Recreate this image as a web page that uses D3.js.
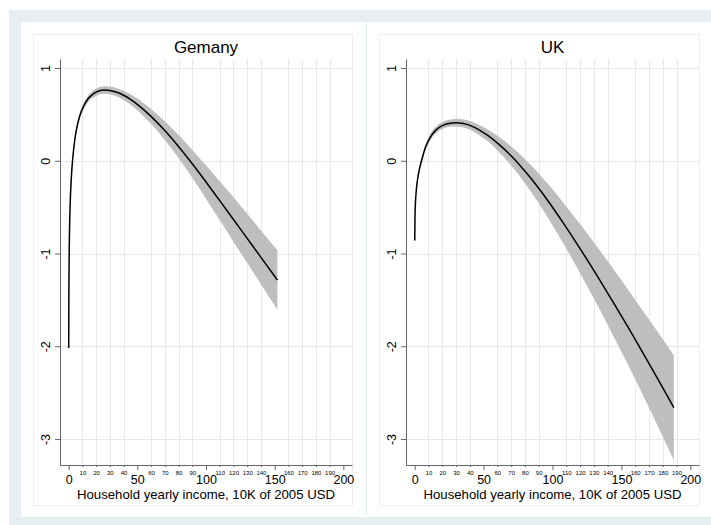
<!DOCTYPE html>
<html>
<head>
<meta charset="utf-8">
<script src="https://cdn.jsdelivr.net/npm/d3@7"></script>
<style>
body{margin:0;background:#fff;}
text{font-family:"Liberation Sans",Arial,Helvetica,sans-serif;fill:#000;}
</style>
</head>
<body>
<div id="chart"></div>
<script>
// panel titles (as written on the original)
const countries = ["Gemany", "UK"];
const xTitle = "Household yearly income, 10K of 2005 USD";

// tick values
const yTicks = [-3, -2, -1, 0, 1];
const xMajor = [0, 50, 100, 150, 200];
const xMinor = [10,20,30,40,60,70,80,90,110,120,130,140,160,170,180,190];

// Germany: fitted curve and confidence band
const geX  = [0.05,0.1,0.2,0.5,1,2,3,4.6,6,8,11,14,17,20,23,26,30,35,40,45,50,60,70,80,90,100,110,120,130,140,152];
const geY  = [-2.02,-1.67,-1.33,-0.87,-0.52,-0.17,0.03,0.24,0.36,0.48,0.59,0.665,0.71,0.74,0.757,0.763,0.758,0.738,0.706,0.662,0.608,0.478,0.325,0.153,-0.033,-0.229,-0.43,-0.633,-0.837,-1.041,-1.286];
const geLo = [-2.02,-1.67,-1.33,-0.88,-0.54,-0.195,0,0.21,0.33,0.447,0.555,0.629,0.673,0.702,0.717,0.723,0.716,0.693,0.656,0.606,0.545,0.398,0.225,0.029,-0.183,-0.409,-0.64,-0.873,-1.102,-1.331,-1.606];
const geHi = [-2.02,-1.67,-1.33,-0.86,-0.50,-0.145,0.06,0.27,0.39,0.513,0.625,0.701,0.747,0.778,0.797,0.803,0.80,0.783,0.756,0.718,0.671,0.558,0.425,0.277,0.117,-0.049,-0.22,-0.393,-0.572,-0.751,-0.966];

// UK: fitted curve and confidence band
const ukX  = [0.05,0.2,0.5,1,2,3.6,5.5,8,11,15,19,23,27,30,34,38,43,47,53,59,65,71.5,78,84,90,96,102,108,120,132,144,156,168,178,188];
const ukY  = [-0.86,-0.63,-0.47,-0.35,-0.21,-0.08,0.03,0.15,0.245,0.325,0.37,0.396,0.408,0.41,0.405,0.392,0.363,0.331,0.273,0.204,0.125,0.029,-0.077,-0.183,-0.297,-0.418,-0.544,-0.675,-0.947,-1.23,-1.523,-1.824,-2.133,-2.395,-2.661];
const ukLo = [-0.86,-0.63,-0.475,-0.36,-0.23,-0.105,0,0.12,0.213,0.29,0.334,0.358,0.368,0.37,0.363,0.347,0.313,0.276,0.209,0.128,0.035,-0.077,-0.201,-0.325,-0.457,-0.598,-0.744,-0.895,-1.212,-1.54,-1.883,-2.234,-2.598,-2.91,-3.226];
const ukHi = [-0.86,-0.63,-0.465,-0.34,-0.19,-0.055,0.06,0.18,0.277,0.36,0.406,0.434,0.448,0.45,0.447,0.437,0.413,0.386,0.337,0.28,0.215,0.135,0.047,-0.041,-0.137,-0.238,-0.344,-0.455,-0.682,-0.92,-1.163,-1.414,-1.668,-1.88,-2.096];

const series = [
  {x: geX, y: geY, lo: geLo, hi: geHi},
  {x: ukX, y: ukY, lo: ukLo, hi: ukHi}
];

const W = 711, H = 525;
const svg = d3.select("#chart").append("svg")
    .attr("width", W).attr("height", H);

// outer frame like the screenshot
svg.append("rect").attr("x", 9).attr("y", 10).attr("width", W - 9).attr("height", H - 10)
    .attr("fill", "#e6eef0");
svg.append("rect").attr("x", 21).attr("y", 22).attr("width", W - 21).attr("height", 495)
    .attr("fill", "#fff");
svg.append("line").attr("x1", 366.5).attr("x2", 366.5).attr("y1", 22).attr("y2", 517)
    .attr("stroke", "#e3eaec");

// panel geometry
const panels = [
  {box: [33, 34, 352, 505], left: 60, right: 352},
  {box: [379, 34, 699, 505], left: 406, right: 699}
];
const plotTop = 59, plotBottom = 465;

panels.forEach(function(p, i){
    const d = series[i].x.map(function(v, k){
        return {x: v, y: series[i].y[k], lo: series[i].lo[k], hi: series[i].hi[k]};
    });

    const g = svg.append("g");

    // graph region border
    g.append("rect").attr("x", p.box[0] + 0.5).attr("y", p.box[1] + 0.5)
        .attr("width", p.box[2] - p.box[0]).attr("height", p.box[3] - p.box[1])
        .attr("fill", "#fff").attr("stroke", "#eeeeee");

    const x = d3.scaleLinear().domain([-6.3, 206.3]).range([p.left, p.right]);
    const y = d3.scaleLinear().domain([-3.28, 1.097]).range([plotBottom, plotTop]);

    // grid lines
    g.selectAll(".hgrid").data(yTicks).enter().append("line")
        .attr("x1", p.left).attr("x2", p.right)
        .attr("y1", function(v){ return Math.round(y(v)) + 0.5; })
        .attr("y2", function(v){ return Math.round(y(v)) + 0.5; })
        .attr("stroke", "#e8e8e8");
    g.selectAll(".vgrid").data(xMinor).enter().append("line")
        .attr("x1", function(v){ return Math.round(x(v)) + 0.5; })
        .attr("x2", function(v){ return Math.round(x(v)) + 0.5; })
        .attr("y1", plotTop).attr("y2", plotBottom)
        .attr("stroke", "#e8e8e8");

    // confidence band
    const band = d3.area().curve(d3.curveMonotoneX)
        .x(function(v){ return x(v.x); })
        .y0(function(v){ return y(v.lo); })
        .y1(function(v){ return y(v.hi); });
    g.append("path").datum(d).attr("d", band).attr("fill", "#bebebe");

    // fitted line
    const line = d3.line().curve(d3.curveMonotoneX)
        .x(function(v){ return x(v.x); })
        .y(function(v){ return y(v.y); });
    g.append("path").datum(d).attr("d", line)
        .attr("fill", "none").attr("stroke", "#000").attr("stroke-width", 1.5);

    // y axis, labels turned on their side
    const yAx = g.append("g").attr("transform", "translate(" + p.left + ",0)")
        .call(d3.axisLeft(y).tickValues(yTicks).tickSize(5).tickSizeOuter(0)
            .tickFormat(function(v){ return String(v); }));
    yAx.select(".domain").attr("stroke", "#666");
    yAx.selectAll(".tick line").attr("stroke", "#666");
    yAx.selectAll("text").attr("x", 0).attr("dy", null)
        .attr("text-anchor", "middle")
        .attr("transform", "translate(-10,0) rotate(-90)")
        .style("font-size", "12.5px");

    // x axis: big labels every 50, small ones every 10
    const xAx = g.append("g").attr("transform", "translate(0," + plotBottom + ")")
        .call(d3.axisBottom(x).tickValues(xMajor).tickSize(5).tickSizeOuter(0));
    xAx.select(".domain").attr("stroke", "#666");
    xAx.selectAll(".tick line").attr("stroke", "#666");
    xAx.selectAll("text").attr("y", 10).style("font-size", "12.5px");

    const xMin = g.append("g").attr("transform", "translate(0," + plotBottom + ")")
        .call(d3.axisBottom(x).tickValues(xMinor).tickSize(2)
            .tickFormat(function(v){ return String(v); }));
    xMin.select(".domain").remove();
    xMin.selectAll(".tick line").attr("stroke", "#666");
    xMin.selectAll("text").attr("y", 10).attr("dy", null).style("font-size", "6px");

    // titles
    const cx = (p.left + p.right) / 2;
    g.append("text").attr("x", cx).attr("y", 53).attr("text-anchor", "middle")
        .style("font-size", "17px").text(countries[i]);
    g.append("text").attr("x", cx).attr("y", 499).attr("text-anchor", "middle")
        .style("font-size", "13.2px").text(xTitle);
});
</script>
</body>
</html>
